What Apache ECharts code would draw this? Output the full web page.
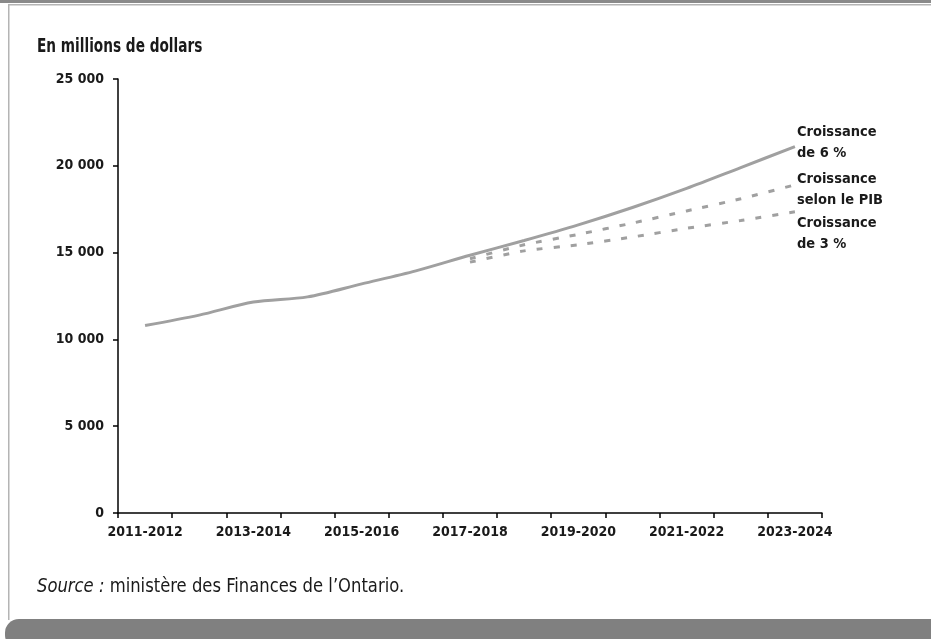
<!DOCTYPE html>
<html>
<head>
<meta charset="utf-8">
<script src="https://cdn.jsdelivr.net/npm/echarts@6/dist/echarts.min.js"></script>
<style>
  html, body { margin: 0; padding: 0; background: #ffffff; }
  #chart { width: 931px; height: 639px; }
</style>
</head>
<body>
<div id="chart"></div>
<script>
// Exercices financiers (axe des catégories)
const years = ['2011-2012', '2012-2013', '2013-2014', '2014-2015', '2015-2016', '2016-2017',
  '2017-2018', '2018-2019', '2019-2020', '2020-2021', '2021-2022', '2022-2023', '2023-2024'];

// Croissance de 6 % (historique puis projection), en millions de dollars
const croissance6 = [10800, 11400, 12150, 12450, 13200, 13950, 14850, 15700, 16600, 17600, 18700, 19900, 21100];

// Croissance selon le PIB (projection à partir de 2017-2018)
const croissancePib = [null, null, null, null, null, null, 14650, 15450, 16050, 16700, 17400, 18100, 18900];

// Croissance de 3 % (projection à partir de 2017-2018)
const croissance3 = [null, null, null, null, null, null, 14450, 15100, 15450, 15900, 16400, 16850, 17350];

// Graduations de l'axe vertical
const yMin = 0, yMax = 25000, yStep = 5000;

const FONT = "'Liberation Sans Narrow', 'DejaVu Sans Condensed', 'Roboto Condensed', sans-serif";
const LINE_GREY = '#a0a0a0';
const TEXT = '#1a1a1a';

function fmtThousands(v) {
  return String(v).replace(/\B(?=(\d{3})+(?!\d))/g, ' ');
}

const chart = echarts.init(document.getElementById('chart'), null, { renderer: 'canvas' });

const endLabelStyle = (text, offset) => ({
  show: true,
  formatter: text,
  color: TEXT,
  fontFamily: FONT,
  fontWeight: 'bold',
  fontSize: 14.5,
  lineHeight: 21,
  distance: 2,
  offset: offset
});

chart.setOption({
  animation: false,
  backgroundColor: '#ffffff',
  grid: { left: 118, right: 109, top: 79, bottom: 126, containLabel: false },
  xAxis: {
    type: 'category',
    data: years,
    boundaryGap: true,
    axisLine: { lineStyle: { color: '#000', width: 1.5 } },
    axisTick: { show: true, interval: 0, length: 5, lineStyle: { color: '#000', width: 1.5 } },
    axisLabel: {
      interval: 1,
      margin: 12,
      color: TEXT,
      fontFamily: FONT,
      fontWeight: 'bold',
      fontSize: 14
    },
    splitLine: { show: false }
  },
  yAxis: {
    type: 'value',
    min: yMin,
    max: yMax,
    interval: yStep,
    axisLine: { show: true, lineStyle: { color: '#000', width: 1.5 } },
    axisTick: { show: true, length: 5, lineStyle: { color: '#000', width: 1.5 } },
    axisLabel: {
      margin: 14,
      color: TEXT,
      fontFamily: FONT,
      fontWeight: 'bold',
      fontSize: 14,
      formatter: fmtThousands
    },
    splitLine: { show: false }
  },
  series: [
    {
      name: 'Croissance de 6 %',
      type: 'line',
      data: croissance6,
      smooth: 0.3,
      symbol: 'none',
      lineStyle: { color: LINE_GREY, width: 3 },
      endLabel: endLabelStyle('Croissance\nde 6 %', [0, -4]),
      z: 3
    },
    {
      name: 'Croissance selon le PIB',
      type: 'line',
      data: croissancePib,
      smooth: 0.2,
      symbol: 'none',
      lineStyle: { color: LINE_GREY, width: 3, type: [6, 11] },
      endLabel: endLabelStyle('Croissance\nselon le PIB', [0, 5]),
      z: 2
    },
    {
      name: 'Croissance de 3 %',
      type: 'line',
      data: croissance3,
      smooth: 0.2,
      symbol: 'none',
      lineStyle: { color: LINE_GREY, width: 3, type: [6, 11] },
      endLabel: endLabelStyle('Croissance\nde 3 %', [0, 22]),
      z: 2
    }
  ],
  graphic: [
    // bandeau supérieur
    { type: 'rect', left: 0, top: 0, shape: { width: 931, height: 3 }, style: { fill: '#8a8a8a' }, silent: true },
    // cadre intérieur (bords haut et gauche)
    { type: 'rect', left: 8, top: 4, shape: { width: 923, height: 1.5 }, style: { fill: '#b4b4b4' }, silent: true },
    { type: 'rect', left: 8, top: 4, shape: { width: 1.5, height: 616 }, style: { fill: '#b4b4b4' }, silent: true },
    // bandeau inférieur arrondi
    { type: 'rect', left: 5, top: 619, shape: { width: 940, height: 30, r: [14, 0, 0, 14] }, style: { fill: '#808080' }, silent: true },
    // titre de l'axe vertical
    {
      type: 'text',
      x: 37,
      y: 38,
      scaleX: 0.8,
      silent: true,
      style: {
        text: 'En millions de dollars',
        fontFamily: FONT,
        fontWeight: 'bold',
        fontSize: 19,
        fill: TEXT
      }
    },
    // source
    {
      type: 'text',
      x: 37,
      y: 578,
      scaleX: 0.96,
      silent: true,
      style: {
        text: '{i|Source :} ministère des Finances de l\u2019Ontario.',
        fontFamily: FONT,
        fontSize: 19,
        fill: TEXT,
        rich: {
          i: { fontFamily: FONT, fontSize: 19, fontStyle: 'italic', fill: TEXT }
        }
      }
    }
  ]
});
</script>
</body>
</html>
